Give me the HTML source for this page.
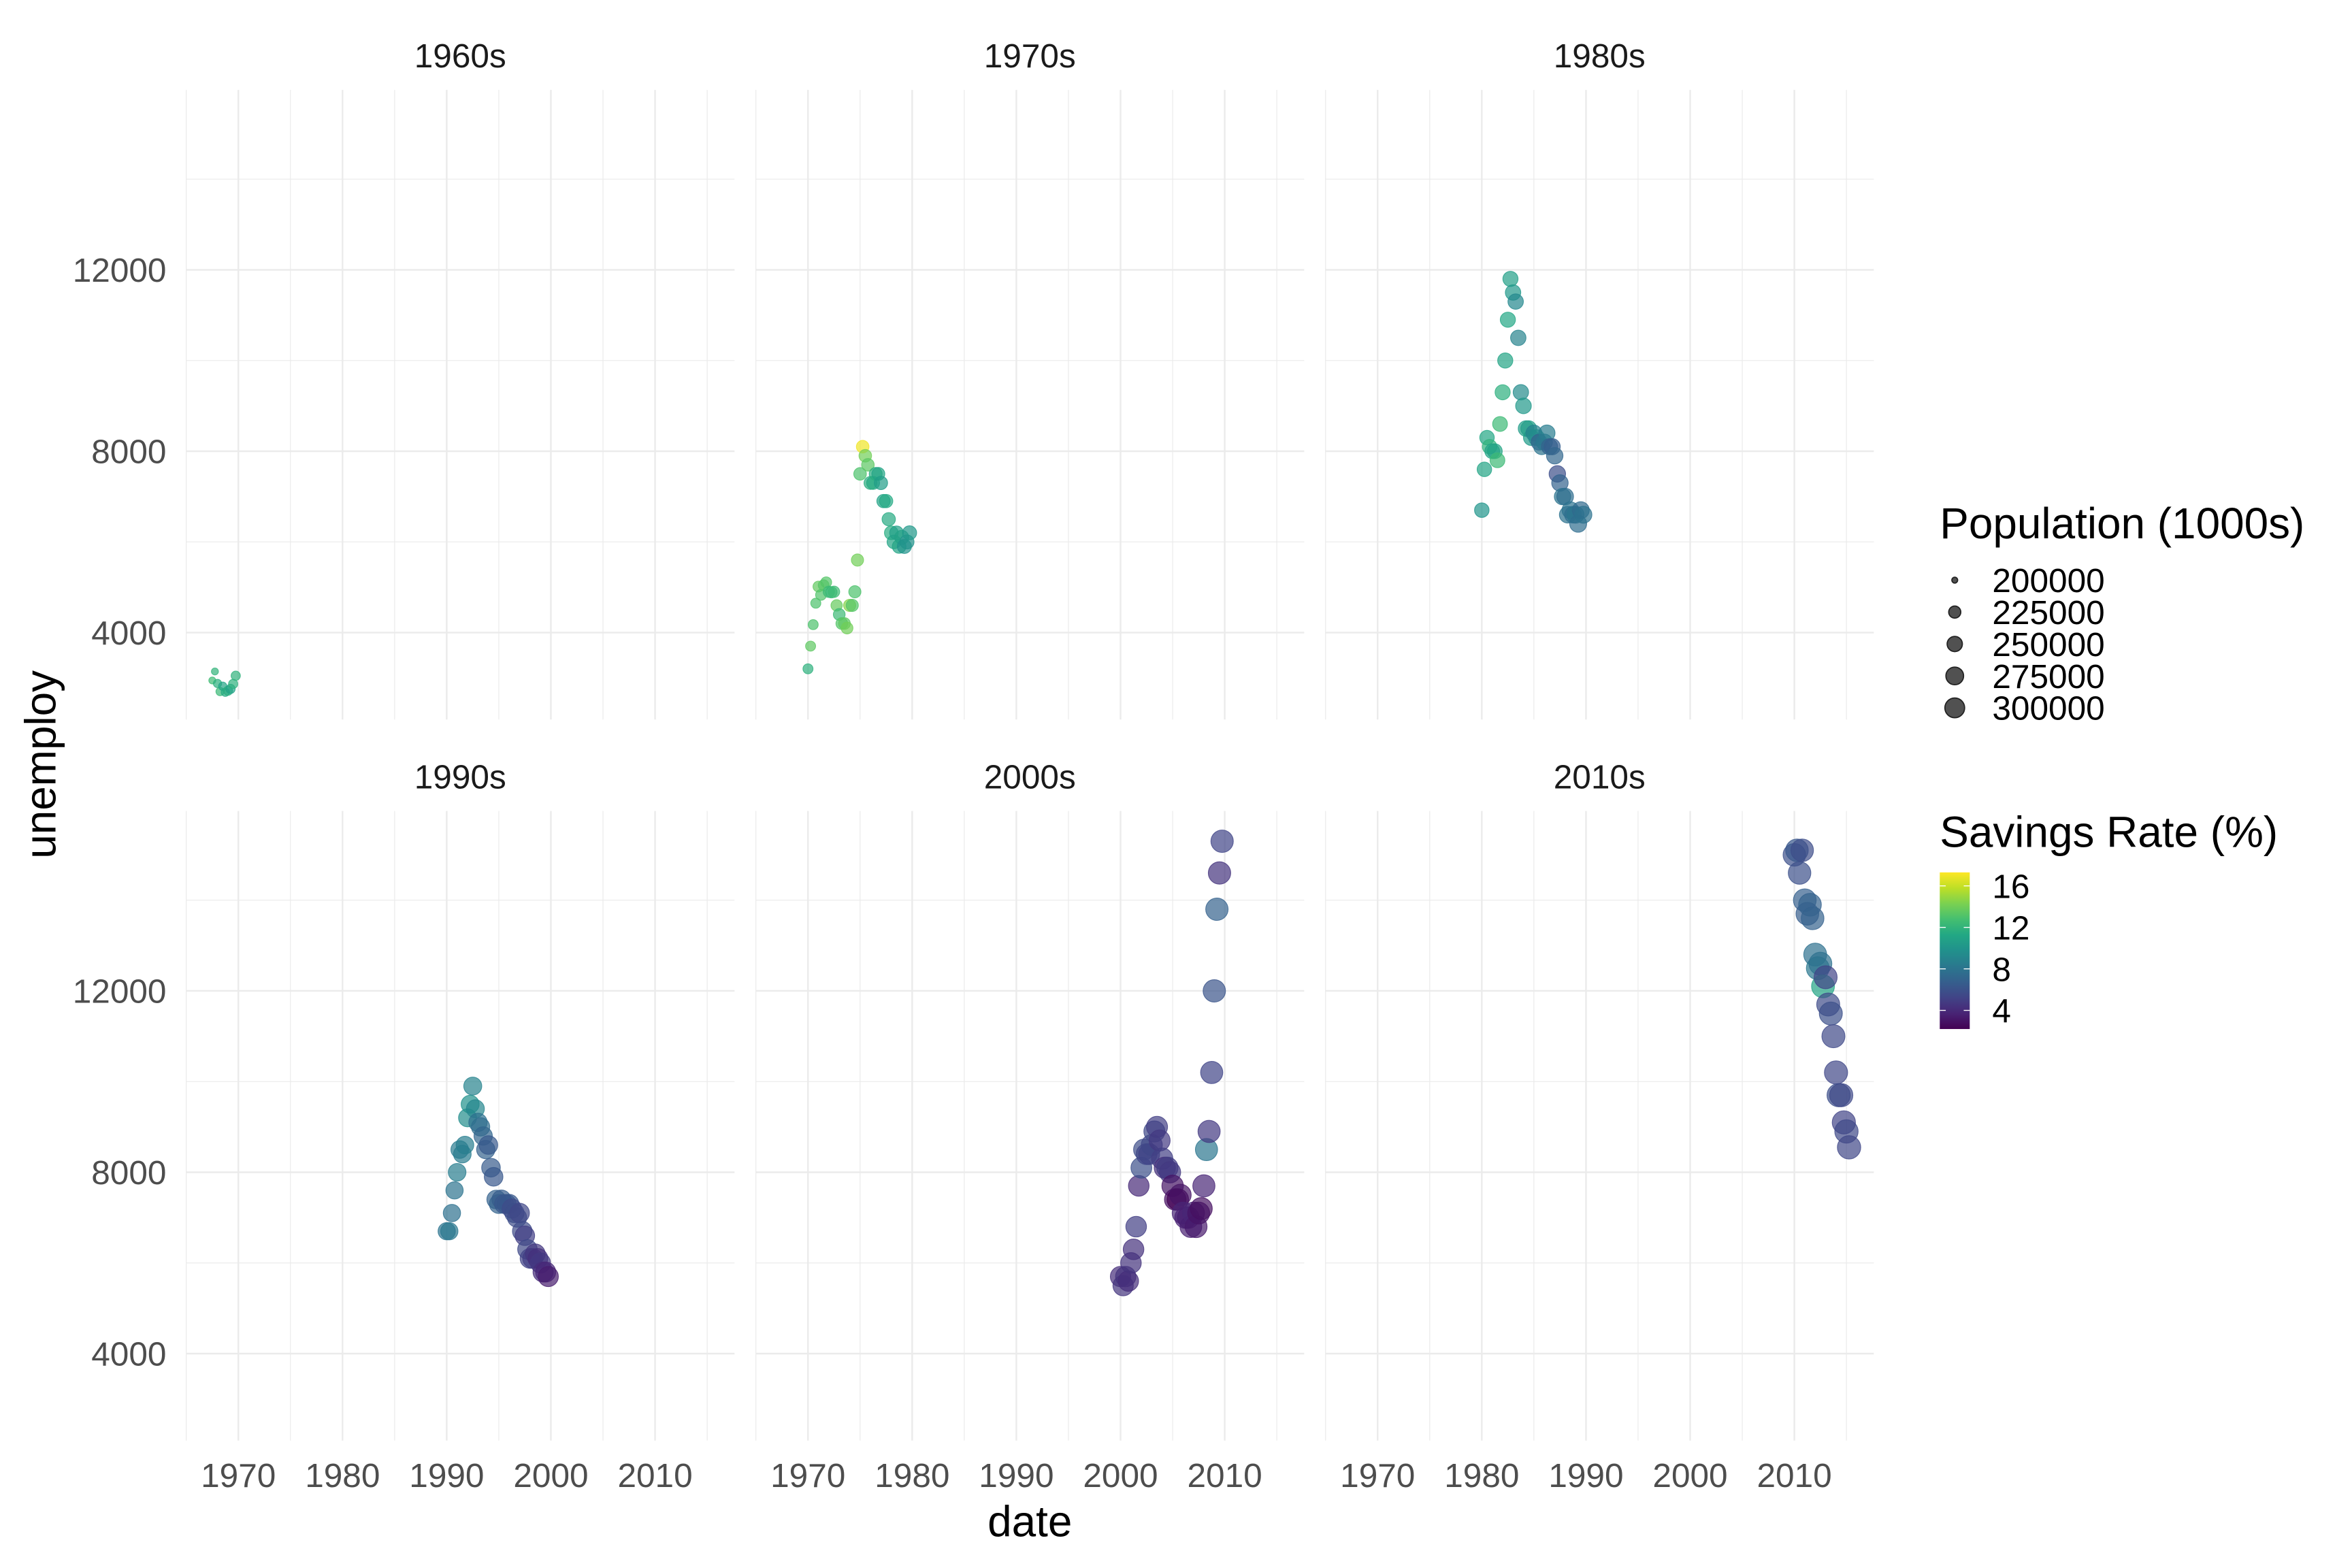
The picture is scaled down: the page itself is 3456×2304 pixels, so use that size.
<!DOCTYPE html>
<html><head><meta charset="utf-8"><style>
html,body{margin:0;padding:0;background:#fff}
svg{display:block}
text{font-family:"Liberation Sans",sans-serif}
</style></head>
<body>
<svg id="chart" xmlns="http://www.w3.org/2000/svg" width="3456" height="2304" viewBox="0 0 1569 1046">
<rect x="0" y="0" width="1569" height="1046" fill="#fff"/>
<g id="grid"></g>
<g id="points"></g>
<g id="axes"></g>
<g id="legend"></g>
</svg>
<script>
const startDate = 1967.5;
const unemploy = [
2944,3143,
2878,2700,2817,2685,
2718,2758,2868,3049,
3201,3702,4175,4648,
5016,4832,5046,5110,
4900,4890,4900,4600,
4400,4200,4200,4100,
4600,4600,4900,5600,
7500,8100,7900,7700,
7300,7300,7500,7500,
7300,6900,6900,6500,
6200,6000,6200,5900,
6100,5900,6000,6200,
6700,7600,8300,8100,
8000,8000,7800,8600,
9300,10000,10900,11800,
11500,11300,10500,9300,
9000,8500,8500,8300,
8400,8300,8200,8100,
8200,8400,8100,8100,
7900,7500,7300,7000,
7000,6600,6700,6600,
6600,6400,6700,6600,
6700,6700,7100,7600,
8000,8500,8400,8600,
9200,9500,9900,9400,
9100,9000,8800,8500,
8600,8100,7900,7400,
7300,7400,7300,7300,
7300,7200,7100,7000,
7100,6700,6600,6300,
6100,6100,6200,6100,
6000,5800,5800,5700,
5700,5500,5700,5600,
6000,6300,6800,7700,
8100,8500,8400,8400,
8600,8900,9000,8700,
8300,8100,8100,8000,
7700,7400,7400,7500,
7100,7000,7000,6800,
7100,6800,7100,7200,
7700,8500,8900,10200,
12000,13800,14600,15300,
15000,15100,14600,15100,
14000,13700,13900,13600,
12800,12500,12600,12100,
12300,11700,11500,11000,
10200,9700,9700,9100,
8900,8550
];
const psavert = [
12.5,12.0,
11.7,12.3,11.0,11.4,
11.6,10.9,11.8,11.9,
11.8,13.5,13.0,13.0,
13.6,13.1,13.3,13.2,
12.4,12.3,12.5,13.7,
12.4,13.2,13.5,14.0,
14.5,13.2,13.0,14.0,
13.0,17.0,14.0,13.4,
11.6,11.4,11.6,11.0,
10.5,10.9,11.3,11.4,
11.5,11.0,10.7,11.0,
10.8,9.9,9.9,10.2,
10.0,11.0,11.2,11.9,
10.9,11.0,12.4,12.4,
11.7,11.0,11.2,10.7,
10.2,9.2,8.9,9.4,
10.2,10.5,10.6,10.4,
8.8,9.5,7.0,8.0,
8.2,8.5,7.0,6.7,
7.2,5.8,7.0,8.0,
7.6,7.9,7.9,7.7,
8.1,7.6,7.4,7.9,
8.0,8.2,7.8,8.0,
8.6,8.4,8.5,8.6,
9.5,9.8,8.9,9.1,
7.8,7.6,7.1,6.9,
6.4,6.5,6.3,6.9,
7.0,6.6,6.3,6.3,
6.3,5.6,5.8,5.7,
5.4,5.6,5.0,5.5,
5.2,5.0,4.6,4.3,
4.7,4.2,3.9,3.4,
4.2,4.5,4.4,4.2,
4.4,4.3,5.0,4.0,
5.9,5.7,5.4,5.3,
5.4,5.5,5.0,4.7,
5.0,4.3,4.9,4.7,
3.0,2.8,2.2,3.0,
3.8,3.6,3.5,3.5,
3.8,3.3,3.0,2.8,
3.8,8.1,4.7,5.3,
6.1,6.9,4.4,5.3,
5.9,6.3,5.9,5.7,
6.8,6.6,6.9,6.9,
7.8,8.2,7.8,11.0,
5.2,5.6,5.9,5.5,
5.4,5.8,5.5,5.2,
5.5,5.4
];
const popYears = [1967,1968,1969,1970,1971,1972,1973,1974,1975,1976,1977,1978,1979,1980,1981,1982,1983,1984,1985,1986,1987,1988,1989,1990,1991,1992,1993,1994,1995,1996,1997,1998,1999,2000,2001,2002,2003,2004,2005,2006,2007,2008,2009,2010,2011,2012,2013,2014,2015];
const popByYear = [199000,200700,202700,205000,207700,209900,211900,213900,216000,218000,220200,222600,225100,227700,229900,232200,234300,236300,238500,240700,242800,245000,247300,250100,253500,256900,260300,263400,266600,269700,272900,276100,279300,282400,285300,288000,290700,293300,296000,298800,301700,304600,307300,309800,312000,314300,316400,318700,320600];
const facetLabels = ["1960s","1970s","1980s","1990s","2000s","2010s"];
const xTicks = [1970,1980,1990,2000,2010];
const yTicks = [4000,8000,12000];
const sizeBreaks = [200000,225000,250000,275000,300000];
const colorBreaks = [16,12,8,4];

const NS="http://www.w3.org/2000/svg";
function mk(tag, attrs, parent){const e=document.createElementNS(NS,tag);for(const k in attrs)e.setAttribute(k,attrs[k]);parent.appendChild(e);return e;}
const PW=366, PX0=[124,504,884], PY0=[60,541], PH=420;
const TICK=22.5, TITLE=29;
function xScale(year, col){return PX0[col] + 35 + (year-1970)*6.95;}
function yScale(v, row){return PY0[row] + 241 - (v-8000)*0.03025;}
const popMin=198712, popMax=320887;
function rScale(p){const s=1+5*Math.sqrt(Math.max(0,(p-popMin)/(popMax-popMin)));return 1.15*s+0.9;}
const vir=["#440154","#482475","#414487","#355f8d","#2a788e","#21918c","#22a884","#44bf70","#7ad151","#bddf26","#fde725"];
const cMin=2.2,cMax=17.3;
function hex(h){return [parseInt(h.substr(1,2),16),parseInt(h.substr(3,2),16),parseInt(h.substr(5,2),16)];}
function cScale(v){let t=(v-cMin)/(cMax-cMin);t=Math.max(0,Math.min(1,t));const f=t*10,i=Math.min(9,Math.floor(f)),u=f-i;const a=hex(vir[i]),b=hex(vir[i+1]);return "rgb("+a.map((x,k)=>Math.round(x+(b[k]-x)*u)).join(",")+")";}

const grid=document.getElementById('grid'), pts=document.getElementById('points'), axes=document.getElementById('axes'), leg=document.getElementById('legend');

for(let p=0;p<6;p++){
  const col=p%3,row=Math.floor(p/3);
  const g=mk('g',{},grid);
  
  
  const x0=PX0[col],y0=PY0[row];
  for(const m of [1965,1975,1985,1995,2005,2015]){const x=xScale(m,col);if(x>x0&&x<x0+PW){const l=mk('line',{x1:x,x2:x,y1:y0,y2:y0+PH,stroke:'#ebebeb','stroke-width':0.55},g);}}
  for(const m of [2000,6000,10000,14000]){const y=yScale(m,row);if(y>y0&&y<y0+PH){const l=mk('line',{x1:x0,x2:x0+PW,y1:y,y2:y,stroke:'#ebebeb','stroke-width':0.55},g);}}
  for(const t of xTicks){const x=xScale(t,col);const l=mk('line',{x1:x,x2:x,y1:y0,y2:y0+PH,stroke:'#ebebeb','stroke-width':1.1},g);}
  for(const t of yTicks){const y=yScale(t,row);const l=mk('line',{x1:x0,x2:x0+PW,y1:y,y2:y,stroke:'#ebebeb','stroke-width':1.1},g);}
  const st=mk('text',{x:x0+PW/2,y:y0-15,'text-anchor':'middle','font-size':TICK,fill:'#1a1a1a'},axes);
  st.textContent=facetLabels[p];
  
  
}
for(let row=0;row<2;row++){for(const t of yTicks){const tx=mk('text',{x:111,y:yScale(t,row)+8,'text-anchor':'end','font-size':TICK,fill:'#4d4d4d'},axes);tx.textContent=t;}}
for(let col=0;col<3;col++){for(const t of xTicks){const tx=mk('text',{x:xScale(t,col),y:992,'text-anchor':'middle','font-size':TICK,fill:'#4d4d4d'},axes);tx.textContent=t;}}
const xt=mk('text',{x:687,y:1025,'text-anchor':'middle','font-size':TITLE,fill:'#000'},axes);xt.textContent='date';


const yt=mk('text',{x:37,y:510,'text-anchor':'middle','font-size':TITLE,fill:'#000',transform:'rotate(-90 37 510)'},axes);yt.textContent='unemploy';



for(let i=0;i<unemploy.length;i++){
  const d=startDate+i*0.25;
  const yr=Math.floor(d);
  const dec=Math.floor(yr/10)*10;
  const p=(dec-1960)/10;
  const col=p%3,row=Math.floor(p/3);
  const pop=popByYear[popYears.indexOf(yr)];
  const c=cScale(psavert[i]);
  const ci=mk('circle',{cx:xScale(d,col),cy:yScale(unemploy[i],row),r:rScale(pop),fill:c,'fill-opacity':0.7,stroke:c,'stroke-opacity':0.8,'stroke-width':0.5},pts);
  
  
}

const lt=mk('text',{x:1294,y:359,'font-size':TITLE,fill:'#000'},leg);lt.textContent='Population (1000s)';


sizeBreaks.forEach((b,k)=>{
  const y=387+k*21.3;
  const c=mk('circle',{cx:1304,cy:y,r:rScale(b)-0.7,fill:'#333','fill-opacity':0.85,stroke:'#222','stroke-width':0.8},leg);
  
  
  const t=mk('text',{x:1329,y:y+8,'font-size':TICK,fill:'#000'},leg);t.textContent=b;
  
  
});
const ct=mk('text',{x:1294,y:565,'font-size':TITLE,fill:'#000'},leg);ct.textContent='Savings Rate (%)';


const defs=mk('defs',{},leg);
const lg=mk('linearGradient',{id:'vg',x1:0,y1:1,x2:0,y2:0},defs);
vir.forEach((h,k)=>mk('stop',{offset:(k/10),'stop-color':h},lg));
function cbY(v){return 674-(v-4)*6.92;}
const bar=mk('rect',{x:1294,y:cbY(cMax),width:20,height:cbY(cMin)-cbY(cMax),fill:'url(#vg)'},leg);


colorBreaks.forEach(b=>{
  const y=cbY(b);
  mk('line',{x1:1294,x2:1298,y1:y,y2:y,stroke:'#fff','stroke-width':0.6},leg);
  mk('line',{x1:1310,x2:1314,y1:y,y2:y,stroke:'#fff','stroke-width':0.6},leg);
  const t=mk('text',{x:1329,y:y+8,'font-size':TICK,fill:'#000'},leg);t.textContent=b;
  
  
});
</script>
</body></html>
